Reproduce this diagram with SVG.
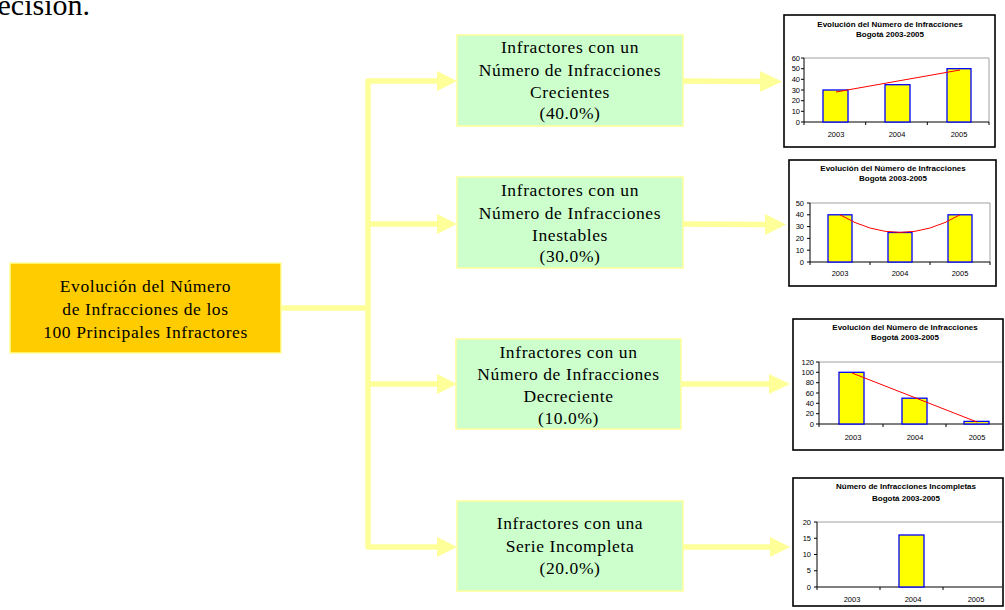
<svg xmlns="http://www.w3.org/2000/svg" width="1005" height="610" viewBox="0 0 1005 610">
<style>
.node{font-family:"Liberation Serif","Times New Roman",serif;font-size:17.5px;letter-spacing:0.6px;fill:#000;text-anchor:middle}
.green{fill:#CCFFCC;stroke:#FFFF99;stroke-width:1.5}
.orange{fill:#FFCC00;stroke:#FFFF99;stroke-width:1.5}
.conn{fill:none;stroke:#FFFF99;stroke-width:5.5;stroke-linejoin:round}
.head{fill:#FFFF99}
.cbox{fill:#fff;stroke:#000;stroke-width:1.6}
.ct{font-family:"Liberation Sans",Arial,sans-serif;font-size:8px;font-weight:bold;text-anchor:middle;fill:#000}
.tl{font-family:"Liberation Sans",Arial,sans-serif;font-size:7.5px;fill:#000}
.yl{text-anchor:end}
.xl{text-anchor:middle}
.grid{fill:none;stroke:#A0A0A0;stroke-width:1}
.axis{fill:none;stroke:#000;stroke-width:1}
.bar{fill:#FFFF00;stroke:#0000FF;stroke-width:1.3}
.trend{fill:none;stroke:#FF0000;stroke-width:1}
</style>

<text x="90" y="15" font-family="Liberation Serif, serif" font-size="30" text-anchor="end">decisión.</text>

<g id="connectors">
  <line class="conn" x1="281" y1="308" x2="368" y2="308"/>
  <path class="conn" d="M438 81 H368 V547 H438"/>
  <line class="conn" x1="368" y1="224" x2="438" y2="224"/>
  <line class="conn" x1="368" y1="384" x2="438" y2="384"/>
  <polygon class="head" points="437,71 457,81 437,91"/>
  <polygon class="head" points="437,214 457,224 437,234"/>
  <polygon class="head" points="437,374 457,384 437,394"/>
  <polygon class="head" points="437,537 457,547 437,557"/>
  <line class="conn" x1="683" y1="81" x2="762" y2="81.5"/>
  <polygon class="head" points="760,71 782,81.5 760,92"/>
  <line class="conn" x1="683" y1="224" x2="767" y2="224.5"/>
  <polygon class="head" points="765,214 786,224.5 765,235"/>
  <line class="conn" x1="682" y1="384" x2="771" y2="384"/>
  <polygon class="head" points="769,374 790,384 769,394"/>
  <line class="conn" x1="683" y1="547" x2="772" y2="547"/>
  <polygon class="head" points="770,537 790,547 770,557"/>
</g>

<g id="root">
  <rect class="orange" x="10" y="263" width="271" height="90"/>
  <text class="node" x="145.5" y="292">Evolución del Número</text>
  <text class="node" x="145.5" y="315">de Infracciones de los</text>
  <text class="node" x="145.5" y="337.5">100 Principales Infractores</text>
</g>

<g id="crecientes">
  <rect class="green" x="457" y="35" width="226" height="91"/>
  <text class="node" x="570" y="53">Infractores con un</text>
  <text class="node" x="570" y="75.5">Número de Infracciones</text>
  <text class="node" x="570" y="98">Crecientes</text>
  <text class="node" x="570" y="119">(40.0%)</text>
</g>

<g id="inestables">
  <rect class="green" x="457" y="177" width="226" height="91"/>
  <text class="node" x="570" y="196">Infractores con un</text>
  <text class="node" x="570" y="218.5">Número de Infracciones</text>
  <text class="node" x="570" y="241">Inestables</text>
  <text class="node" x="570" y="262">(30.0%)</text>
</g>

<g id="decreciente">
  <rect class="green" x="456" y="339" width="225" height="90"/>
  <text class="node" x="568.5" y="357.5">Infractores con un</text>
  <text class="node" x="568.5" y="380">Número de Infracciones</text>
  <text class="node" x="568.5" y="402">Decreciente</text>
  <text class="node" x="568.5" y="423.5">(10.0%)</text>
</g>

<g id="incompleta">
  <rect class="green" x="457" y="501" width="226" height="90"/>
  <text class="node" x="570" y="529">Infractores con una</text>
  <text class="node" x="570" y="552">Serie Incompleta</text>
  <text class="node" x="570" y="574">(20.0%)</text>
</g>

<g id="chart1">
  <rect class="cbox" x="784" y="15" width="211" height="132"/>
  <text class="ct" x="890" y="27">Evolución del Número de Infracciones</text>
  <text class="ct" x="890" y="37">Bogotá 2003-2005</text>
  <path class="grid" d="M804 58 H989 V122"/>
  <path class="axis" d="M804 58 V122 H989 M801 122 H804 M801 111.3 H804 M801 100.7 H804 M801 90 H804 M801 79.3 H804 M801 68.7 H804 M801 58 H804 M865.7 122 V125 M927.3 122 V125 M989 122 V125 M804 122 V125"/>
  <g class="tl yl">
    <text x="800" y="124.5">0</text><text x="800" y="113.8">10</text><text x="800" y="103.2">20</text><text x="800" y="92.5">30</text><text x="800" y="81.8">40</text><text x="800" y="71.2">50</text><text x="800" y="60.5">60</text>
  </g>
  <rect class="bar" x="823" y="90" width="25" height="32"/>
  <rect class="bar" x="885" y="84.7" width="25" height="37.3"/>
  <rect class="bar" x="947" y="68.7" width="24" height="53.3"/>
  <line class="trend" x1="836" y1="92" x2="960" y2="70"/>
  <g class="tl xl">
    <text x="836" y="137">2003</text><text x="897" y="137">2004</text><text x="959" y="137">2005</text>
  </g>
</g>

<g id="chart2">
  <rect class="cbox" x="789" y="160" width="207" height="126"/>
  <text class="ct" x="893" y="171">Evolución del Número de Infracciones</text>
  <text class="ct" x="893" y="181">Bogotá 2003-2005</text>
  <path class="grid" d="M810 203 H990 V262"/>
  <path class="axis" d="M810 203 V262 H990 M807 262 H810 M807 250.2 H810 M807 238.4 H810 M807 226.6 H810 M807 214.8 H810 M807 203 H810 M810 262 V265 M870 262 V265 M930 262 V265 M990 262 V265"/>
  <g class="tl yl">
    <text x="804" y="264.5">0</text><text x="804" y="252.7">10</text><text x="804" y="240.9">20</text><text x="804" y="229.1">30</text><text x="804" y="217.3">40</text><text x="804" y="205.5">50</text>
  </g>
  <rect class="bar" x="828" y="214.8" width="24" height="47.2"/>
  <rect class="bar" x="888" y="232.5" width="24" height="29.5"/>
  <rect class="bar" x="948" y="214.8" width="24" height="47.2"/>
  <path class="trend" d="M840 214.8 Q900 250 960 214.8"/>
  <g class="tl xl">
    <text x="840" y="276">2003</text><text x="900" y="276">2004</text><text x="960" y="276">2005</text>
  </g>
</g>

<g id="chart3">
  <rect class="cbox" x="793" y="319" width="210" height="131"/>
  <text class="ct" x="905" y="330">Evolución del Número de Infracciones</text>
  <text class="ct" x="905" y="340">Bogotá 2003-2005</text>
  <path class="grid" d="M819 362 H1002"/>
  <path class="axis" d="M819 362 V424 H1002 M816 424 H819 M816 413.7 H819 M816 403.3 H819 M816 393 H819 M816 382.7 H819 M816 372.3 H819 M816 362 H819 M819 424 V427 M883 424 V427 M946 424 V427"/>
  <g class="tl yl">
    <text x="814" y="426.5">0</text><text x="814" y="416.2">20</text><text x="814" y="405.8">40</text><text x="814" y="395.5">60</text><text x="814" y="385.2">80</text><text x="814" y="374.8">100</text><text x="814" y="364.5">120</text>
  </g>
  <rect class="bar" x="839" y="372.3" width="25" height="51.7"/>
  <rect class="bar" x="902" y="398.2" width="25" height="25.8"/>
  <rect class="bar" x="964" y="421.4" width="25" height="2.6"/>
  <line class="trend" x1="852" y1="373" x2="977" y2="422"/>
  <g class="tl xl">
    <text x="853" y="440">2003</text><text x="915" y="440">2004</text><text x="977" y="440">2005</text>
  </g>
</g>

<g id="chart4">
  <rect class="cbox" x="793" y="478" width="210" height="128"/>
  <text class="ct" x="906" y="489">Número de Infracciones Incompletas</text>
  <text class="ct" x="906" y="501">Bogotá 2003-2005</text>
  <path class="grid" d="M817 522 H1002"/>
  <path class="axis" d="M817 522 V587 H1002 M814 587 H817 M814 570.75 H817 M814 554.5 H817 M814 538.25 H817 M814 522 H817 M817 587 V590 M880 587 V590 M943 587 V590"/>
  <g class="tl yl">
    <text x="811" y="589.5">0</text><text x="811" y="573.2">5</text><text x="811" y="557">10</text><text x="811" y="540.7">15</text><text x="811" y="524.5">20</text>
  </g>
  <rect class="bar" x="899" y="535" width="25" height="52"/>
  <g class="tl xl">
    <text x="852" y="602">2003</text><text x="913" y="602">2004</text><text x="976" y="602">2005</text>
  </g>
</g>
</svg>
